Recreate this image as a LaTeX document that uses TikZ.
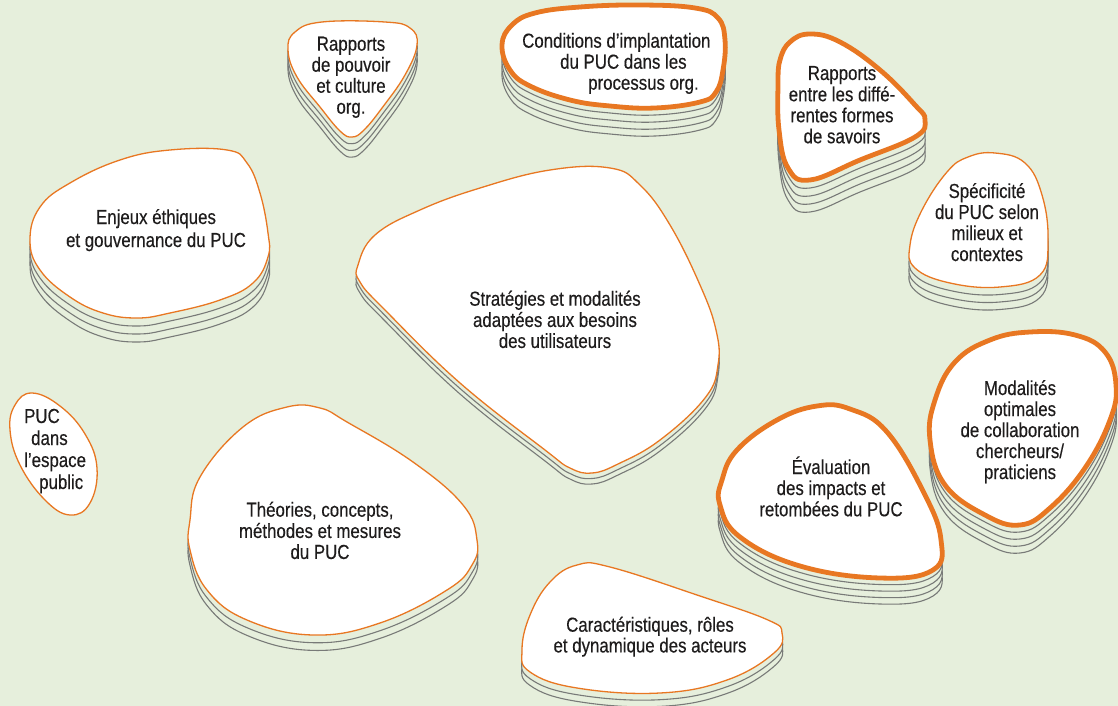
\documentclass[tikz,border=0pt]{standalone}
\usepackage{fontspec}
\setmainfont{Liberation Sans}[FakeStretch=0.83, FakeBold=0.3]
\definecolor{paper}{RGB}{230,239,220}
\definecolor{rim}{RGB}{232,119,34}
\definecolor{edgegray}{RGB}{120,122,120}
\definecolor{ink}{RGB}{30,28,28}

% text block, centred lines, baseline on the first line
\newcommand\blobtext[1]{\begin{tabular}[t]{@{}c@{}}#1\end{tabular}}
% text block, lines set flush left (offsets given by hand)
\newcommand\blobtextl[1]{\begin{tabular}[t]{@{}l@{}}#1\end{tabular}}

% #1 number of sheets under the top, #2 sheet spacing, #3 style of top sheet, #4 outline points
\newcommand\stackblob[4]{%
  \ifnum#1>0
    \foreach \k in {#1,...,1}{%
      \draw[sheet, yshift={-\k*#2pt}] plot[smooth cycle, tension=0.7] coordinates {#4};}%
  \fi
  \draw[#3] plot[smooth cycle, tension=0.7] coordinates {#4};}

\begin{document}
\begin{tikzpicture}[x=1pt, y=-1pt,
  sheet/.style={fill=paper, draw=edgegray, line width=1.1pt},
  toplite/.style={fill=white, draw=rim, line width=1.3pt},
  topbold/.style={fill=white, draw=rim, line width=4.8pt},
  label/.style={text=ink, inner sep=0pt, anchor=base,
                font=\fontsize{20.3}{21}\selectfont},
  labelw/.style={label, anchor=base west}]

\useasboundingbox (0,0) rectangle (1118,706);
\fill[paper] (0,0) rectangle (1118,706);
\clip (0,0) rectangle (1118,706);

% --- Rapports de pouvoir
\stackblob{3}{6.7}{toplite}{(288,50) (295,32) (322,22) (385,22) (410,28) (417,45) (405,75) (382,108) (364,130) (352,137) (340,131) (320,107) (297,77)}
\node[label] (t-pouvoir) at (351,50.7) {\blobtext{Rapports\\de pouvoir\\et culture\\org.}};

% --- Conditions d'implantation
\stackblob{4}{7}{topbold}{(502,45) (512,25) (535,13) (580,7) (640,5) (695,8) (718,18) (725,40) (723,70) (716,92) (700,102) (655,108) (610,106) (570,100) (530,86) (510,70)}
\node[labelw] (t-conditions) at (522,47.7) {\blobtextl{Conditions d’implantation\\\hspace*{38pt}du PUC dans les\\\hspace*{66pt}processus org.}};

% --- Rapports entre les savoirs
\stackblob{4}{8}{topbold}{(780,60) (790,42) (810,34) (840,42) (880,70) (915,105) (925,120) (915,137) (860,160) (810,180) (788,168) (779,130) (778,85)}
\node[label] (t-savoirs) at (842,80) {\blobtext{Rapports\\entre les diffé-\\rentes formes\\de savoirs}};

% --- Spécificité
\stackblob{3}{7.5}{toplite}{(947,172) (968,157) (995,153) (1025,163) (1042,195) (1048,240) (1040,275) (1000,287) (950,283) (915,268) (910,245) (922,210)}
\node[label] (t-specificite) at (987,198) {\blobtext{Spécificité\\du PUC selon\\milieux et\\contextes}};

% --- Enjeux éthiques
\stackblob{3}{8}{toplite}{(30,240) (40,207) (70,183) (120,160) (170,150) (227,150) (247,163) (260,193) (268,233) (268,257) (253,283) (220,300) (170,313) (137,318) (103,313) (70,297) (40,270)}
\node[label, font=\fontsize{20.3}{23}\selectfont] (t-enjeux) at (156,224) {\blobtext{Enjeux éthiques\\et gouvernance du PUC}};

% --- Stratégies
\stackblob{2}{5.5}{toplite}{(358,265) (375,235) (420,210) (480,188) (550,170) (610,168) (640,185) (670,225) (700,285) (716,330) (718,365) (705,398) (660,440) (618,464) (592,473) (570,468) (545,450) (460,383) (385,310) (360,282)}
\node[label] (t-strategies) at (555,305.7) {\blobtext{Stratégies et modalités\\adaptées aux besoins\\des utilisateurs}};

% --- PUC dans l'espace public
\stackblob{0}{0}{toplite}{(32,393) (60,406) (85,434) (97,468) (90,503) (70,515) (45,500) (20,465) (10,430) (15,405)}
\node[labelw, font=\fontsize{20.3}{22}\selectfont] (t-espace) at (24,423) {\blobtextl{PUC\\\hspace*{7pt}dans\\l’espace\\\hspace*{15pt}public}};

% --- Théories
\stackblob{2}{7.7}{toplite}{(190,520) (200,477) (243,427) (287,407) (320,408) (347,422) (413,462) (463,505) (477,540) (472,565) (447,590) (380,623) (313,635) (247,620) (207,590) (190,550)}
\node[label] (t-theories) at (320,516.7) {\blobtext{Théories, concepts,\\méthodes et mesures\\du PUC}};

% --- Caractéristiques
\stackblob{2}{6.7}{toplite}{(522,650) (530,615) (550,582) (577,565) (610,567) (700,596) (768,620) (782,633) (774,653) (727,680) (660,693) (577,688) (530,672)}
\node[label, font=\fontsize{20.3}{20}\selectfont] (t-acteurs) at (650,631.7) {\blobtext{Caractéristiques, rôles\\et dynamique des acteurs}};

% --- Modalités de collaboration
\stackblob{4}{7}{topbold}{(935,400) (955,362) (990,340) (1030,332) (1075,335) (1105,352) (1116,385) (1110,420) (1085,468) (1050,508) (1020,525) (985,515) (945,485) (930,440)}
\node[label] (t-collaboration) at (1020,395) {\blobtext{Modalités\\optimales\\de collaboration\\chercheurs/\\praticiens}};

% --- Évaluation
\stackblob{4}{6.5}{topbold}{(722,480) (737,450) (777,420) (817,406) (850,409) (887,432) (925,495) (941,540) (933,570) (880,578) (800,566) (740,537) (720,505)}
\node[label] (t-evaluation) at (831,474) {\blobtext{Évaluation\\des impacts et\\retombées du PUC}};

\end{tikzpicture}
\end{document}
